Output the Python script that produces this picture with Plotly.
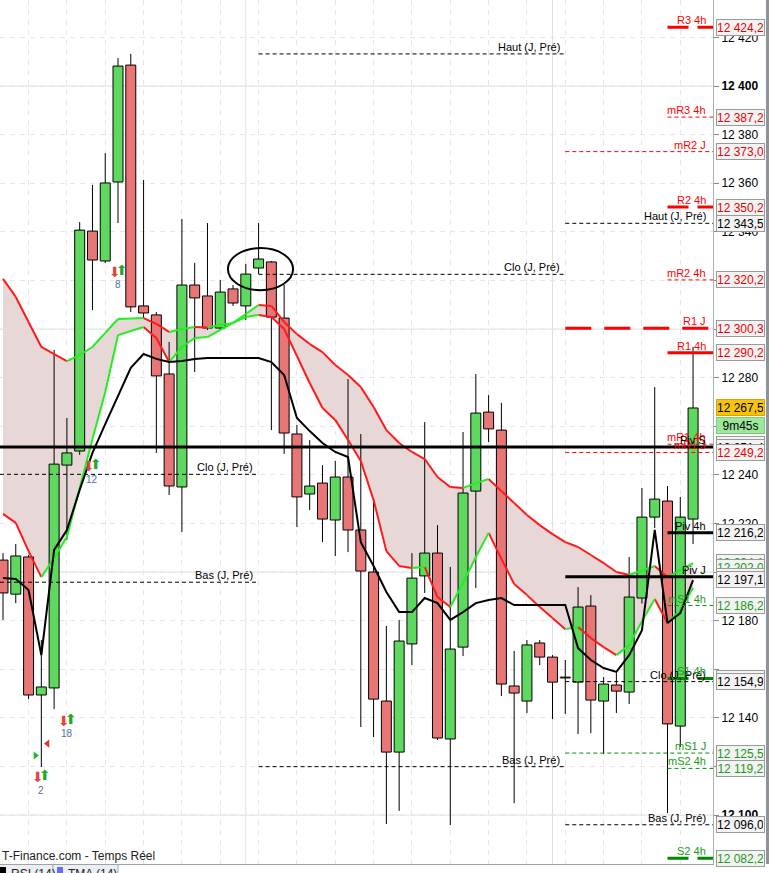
import plotly.graph_objects as go

# ---------------- data ----------------
bar_idx = list(range(55))
opens = [12204.9, 12190.9, 12206.2, 12149.4, 12152.3, 12244.0, 12249.8, 12340.3, 12328.0, 12360.5,
         12408.6, 12309.5, 12305.8, 12281.5, 12235.0, 12318.1, 12313.6, 12300.4, 12316.5, 12309.5,
         12325.1, 12327.6, 12304.5, 12256.8, 12232.1, 12236.6, 12221.4, 12239.1, 12217.3, 12200.0,
         12146.9, 12125.9, 12170.4, 12198.4, 12207.8, 12131.3, 12169.1, 12233.3, 12265.8, 12258.4,
         12153.1, 12146.9, 12170.8, 12165.0, 12156.4, 12154.7, 12186.0, 12146.9, 12153.5, 12150.6,
         12189.3, 12222.6, 12229.2, 12136.6, 12221.8]
highs = [12207.8, 12211.5, 12207.0, 12172.0, 12291.4, 12263.4, 12344.0, 12359.3, 12372.4, 12411.5,
         12413.2, 12361.3, 12307.0, 12294.7, 12345.3, 12327.2, 12343.6, 12320.2, 12318.1, 12326.8,
         12343.6, 12328.0, 12318.1, 12260.5, 12254.3, 12244.0, 12245.7, 12279.4, 12256.8, 12228.8,
         12177.8, 12180.3, 12207.8, 12261.7, 12219.3, 12202.1, 12257.6, 12281.5, 12272.8, 12269.6,
         12167.5, 12172.0, 12172.0, 12165.8, 12163.8, 12193.8, 12190.5, 12156.8, 12158.4, 12206.2,
         12234.6, 12276.1, 12235.4, 12230.9, 12292.6]
lows = [12180.3, 12187.2, 12147.7, 12119.8, 12143.6, 12213.2, 12248.2, 12307.8, 12327.2, 12343.6,
        12307.0, 12304.5, 12249.0, 12231.7, 12216.5, 12282.3, 12299.6, 12299.6, 12309.5, 12303.7,
        12322.6, 12258.4, 12248.6, 12218.5, 12225.5, 12212.3, 12206.6, 12208.2, 12136.2, 12132.1,
        12096.3, 12101.7, 12161.7, 12191.4, 12130.9, 12095.9, 12165.4, 12193.4, 12253.5, 12149.0,
        12104.9, 12142.0, 12161.7, 12139.5, 12141.6, 12133.3, 12133.7, 12125.1, 12142.0, 12145.7,
        12187.0, 12218.1, 12100.8, 12128.0, 12211.5]
closes = [12191.4, 12206.6, 12149.4, 12152.7, 12244.4, 12249.0, 12340.7, 12328.4, 12360.1, 12408.2,
          12309.1, 12306.6, 12280.7, 12235.4, 12318.1, 12312.8, 12300.4, 12315.2, 12310.7, 12322.6,
          12328.8, 12304.9, 12257.2, 12230.9, 12235.4, 12221.8, 12239.1, 12217.3, 12200.4, 12147.7,
          12125.9, 12171.6, 12197.5, 12207.8, 12131.7, 12168.3, 12232.5, 12265.4, 12258.9, 12153.9,
          12150.2, 12170.0, 12165.0, 12154.7, 12156.4, 12185.6, 12147.3, 12153.9, 12151.0, 12189.7,
          12222.6, 12230.0, 12137.5, 12222.6, 12267.5]

band_upper = [12320.6, 12313.2, 12302.9, 12292.6, 12289.7, 12286.8, 12289.3, 12292.6, 12298.4, 12304.1,
              12304.3, 12304.5, 12302.1, 12298.8, 12300.0, 12300.8, 12300.6, 12301.7, 12302.5, 12306.2,
              12309.9, 12309.5, 12302.9, 12297.9, 12293.8, 12290.5, 12285.2, 12281.1, 12276.1, 12267.9,
              12258.4, 12253.1, 12249.4, 12246.5, 12239.1, 12235.0, 12234.6, 12236.6, 12238.3, 12233.3,
              12228.4, 12223.5, 12219.3, 12215.6, 12212.3, 12210.3, 12207.0, 12203.7, 12200.0, 12198.8,
              12200.6, 12202.5, 12197.9, 12200.8, 12203.7]
band_lower = [12223.9, 12220.2, 12208.6, 12197.9, 12205.8, 12214.4, 12234.6, 12254.7, 12274.1, 12297.5,
              12299.2, 12300.8, 12296.3, 12286.4, 12292.6, 12296.3, 12296.7, 12299.6, 12302.5, 12304.9,
              12305.8, 12304.9, 12300.0, 12288.9, 12277.8, 12267.5, 12262.6, 12254.3, 12245.7, 12229.6,
              12208.6, 12202.5, 12201.7, 12202.1, 12189.7, 12185.6, 12195.5, 12206.2, 12216.1, 12205.4,
              12195.1, 12190.5, 12185.6, 12181.1, 12176.5, 12177.4, 12172.8, 12169.1, 12165.8, 12170.0,
              12179.8, 12188.9, 12179.0, 12184.4, 12193.4]
tma = [12197.5, 12197.1, 12192.6, 12165.8, 12209.1, 12217.3, 12233.8, 12249.0, 12260.9, 12272.8,
       12284.0, 12289.7, 12287.7, 12286.4, 12286.8, 12287.7, 12288.1, 12288.1, 12288.1, 12288.1,
       12288.1, 12286.4, 12281.1, 12263.4, 12258.0, 12253.1, 12249.4, 12247.3, 12212.3, 12202.5,
       12191.8, 12183.5, 12183.5, 12189.3, 12187.2, 12180.3, 12183.5, 12187.2, 12188.5, 12189.3,
       12186.4, 12186.4, 12186.4, 12186.4, 12186.4, 12168.7, 12163.8, 12160.5, 12158.9, 12165.8,
       12176.1, 12217.3, 12179.0, 12183.1, 12196.7]

# signal arrows (bar index, price, count label)
sig_idx = [9, 7, 5, 3]
sig_price = [12323.5, 12243.6, 12138.7, 12115.6]
sig_label = ["8", "12", "18", "2"]
tri_right = (2.54, 12124.5)
tri_left = (3.48, 12129.4)

# level lines: (label, price, start bar, kind)
day3_start, h4_start, day2_start = 44, 52, 20
levels = [
    ("mR2 J", 12373.0, day3_start, "mR"),
    ("Haut (J, Pré)", 12343.5, day3_start, "hcb"),
    ("R1 J", 12300.3, day3_start, "Rlong"),
    ("mR1 J", 12249.2, day3_start, "mR"),
    ("Piv J", 12198.1, day3_start, "piv"),
    ("Clo (J, Pré)", 12154.9, day3_start, "hcb"),
    ("mS1 J", 12125.5, day3_start, "mS"),
    ("Bas (J, Pré)", 12096.0, day3_start, "hcb"),
    ("R3 4h", 12424.2, h4_start, "R"),
    ("mR3 4h", 12387.2, h4_start, "mR"),
    ("R2 4h", 12350.2, h4_start, "R"),
    ("mR2 4h", 12320.2, h4_start, "mR"),
    ("R1 4h", 12290.2, h4_start, "Rsolid"),
    ("mR1 4h", 12252.6, h4_start, "mR"),
    ("Piv 4h", 12216.2, h4_start, "piv"),
    ("mS1 4h", 12186.2, h4_start, "mS"),
    ("S1 4h", 12156.2, h4_start, "S"),
    ("mS2 4h", 12119.2, h4_start, "mS"),
    ("S2 4h", 12082.2, h4_start, "S"),
    ("Piv S", 12251.4, None, "piv"),
]
prev_day_names = ["Haut (J, Pré)", "Clo (J, Pré)", "Bas (J, Pré)"]
day2_prices = [12413.2, 12322.5, 12119.9]
day1_prices = [None, 12240.2, 12195.8]

# right-axis price boxes (price, colour)
box_prices = [12424.2, 12387.2, 12373.0, 12350.2, 12343.5, 12320.2, 12300.3, 12290.2,
              12252.6, 12251.4, 12249.2, 12216.2, 12204.1, 12202.0, 12198.1, 12197.1,
              12186.2, 12156.2, 12154.9, 12125.5, 12119.2, 12096.0, 12082.2]
box_colors = ["red", "red", "red", "red", "black", "red", "red", "red",
              "red", "black", "red", "black", "green", "green", "black", "black",
              "green", "green", "black", "green", "green", "black", "green"]
last_price = 12267.5
timer_text = "9m45s"

y_ticks = list(range(12100, 12421, 20))
hidden_tick_labels = [12160]

# ---------------- styling ----------------
FONT = "Liberation Sans, Arial, sans-serif"
RED = "#ff1a1a"
GREEN_LINE = "#22ee22"
GREEN_TXT = "#1a9a1a"
XMIN, XMAX = -0.235, 55.56
YMIN, YMAX = 12079.85, 12435.39
col_map = {"red": "#ee0000", "green": "#1a9a1a", "black": "#000000"}


def fmt(p):
    s = f"{p:.1f}"
    return s[:-5] + " " + s[-5:-2] + "," + s[-1]


fig = go.Figure()

# band fill (between grid and traces)
pts_up = " L ".join(f"{i},{v}" for i, v in zip(bar_idx, band_upper))
pts_lo = " L ".join(f"{i},{v}" for i, v in reversed(list(zip(bar_idx, band_lower))))
fig.add_shape(type="path", path=f"M {pts_up} L {pts_lo} Z", xref="x", yref="y",
              fillcolor="#e8d7d7", line_width=0, layer="between")

# solid grid lines
for v in range(12100, 12401, 100):
    fig.add_shape(type="line", xref="paper", x0=0, x1=1, yref="y", y0=v, y1=v,
                  line=dict(color="#e0e0e0", width=1), layer="below")
for v in [19, 43]:
    fig.add_shape(type="line", xref="x", x0=v, x1=v, yref="paper", y0=0, y1=1,
                  line=dict(color="#e0e0e0", width=1), layer="below")

# candle bodies
bases, heights, colors = [], [], []
for o, c in zip(opens, closes):
    lo, hi = min(o, c), max(o, c)
    bases.append(lo)
    heights.append(max(hi - lo, 0.35))
    colors.append("#5fd85f" if c > o else "#e87676")
fig.add_trace(go.Bar(x=bar_idx, y=heights, base=bases, width=0.78,
                     marker=dict(color=colors, line=dict(color="black", width=1)),
                     hoverinfo="skip"))

# wicks
wx, wy = [], []
for i, o, h, l, c in zip(bar_idx, opens, highs, lows, closes):
    top, bot = max(o, c), min(o, c)
    if h > top:
        wx += [i, i, None]
        wy += [top, h, None]
    if l < bot:
        wx += [i, i, None]
        wy += [l, bot, None]
fig.add_trace(go.Scatter(x=wx, y=wy, mode="lines", line=dict(color="black", width=1),
                         hoverinfo="skip"))


def slope_lines(vals):
    rx, ry, gx, gy = [], [], [], []
    for i in range(len(vals) - 1):
        if vals[i + 1] > vals[i]:
            gx += [bar_idx[i], bar_idx[i + 1], None]
            gy += [vals[i], vals[i + 1], None]
        else:
            rx += [bar_idx[i], bar_idx[i + 1], None]
            ry += [vals[i], vals[i + 1], None]
    return rx, ry, gx, gy


for band in (band_upper, band_lower):
    rx, ry, gx, gy = slope_lines(band)
    fig.add_trace(go.Scatter(x=rx, y=ry, mode="lines", line=dict(color=RED, width=2),
                             hoverinfo="skip"))
    fig.add_trace(go.Scatter(x=gx, y=gy, mode="lines", line=dict(color=GREEN_LINE, width=2),
                             hoverinfo="skip"))

fig.add_trace(go.Scatter(x=bar_idx, y=tma, mode="lines", line=dict(color="black", width=2),
                         hoverinfo="skip"))

# signal arrows (block arrow glyphs) and counts
for i, p, t in zip(sig_idx, sig_price, sig_label):
    fig.add_annotation(x=i, y=p, xshift=-3, text="⬇", showarrow=False,
                       font=dict(size=14, color="#e84040", family="DejaVu Sans"))
    fig.add_annotation(x=i, y=p, xshift=4, yshift=2, text="⬆", showarrow=False,
                       font=dict(size=14, color="#22aa22", family="DejaVu Sans"))
    fig.add_annotation(x=i, y=p, yshift=-13, text=t, showarrow=False,
                       font=dict(size=10, color="#5070a0", family=FONT))
fig.add_trace(go.Scatter(x=[tri_right[0]], y=[tri_right[1]], mode="markers",
                         marker=dict(symbol="triangle-right", size=7, color="#22bb22"),
                         hoverinfo="skip"))
fig.add_trace(go.Scatter(x=[tri_left[0]], y=[tri_left[1]], mode="markers",
                         marker=dict(symbol="triangle-left", size=7, color="#e03030"),
                         hoverinfo="skip"))

# circled candle
fig.add_shape(type="circle", xref="x", yref="y", x0=17.6, x1=22.7, y0=12316.0, y1=12333.3,
              line=dict(color="black", width=2))

# level lines
styles = {
    "mR": dict(color="#ff0000", width=1, dash="4px,3px"),
    "mS": dict(color="#009000", width=1, dash="4px,3px"),
    "hcb": dict(color="#000000", width=1, dash="4px,3px"),
    "R": dict(color="#ff0000", width=3, dash="21px,9px"),
    "Rlong": dict(color="#ff0000", width=3, dash="26px,13px"),
    "Rsolid": dict(color="#ff0000", width=3),
    "S": dict(color="#008800", width=3, dash="21px,9px"),
    "piv": dict(color="#000000", width=3),
}
txt_col = {"mR": "#ff0000", "R": "#ff0000", "Rlong": "#ff0000", "Rsolid": "#ff0000",
           "mS": GREEN_TXT, "S": GREEN_TXT, "hcb": "#000000", "piv": "#000000"}

for name, price, start, kind in levels:
    x0 = XMIN if start is None else start
    fig.add_shape(type="line", xref="x", x0=x0, x1=XMAX, yref="y", y0=price, y1=price,
                  line=styles[kind])
    fig.add_annotation(x=XMAX, xanchor="right", xshift=-5, y=price, yanchor="bottom",
                       yshift=-1, text=name, showarrow=False,
                       font=dict(size=11, color=txt_col[kind], family=FONT))

for name, p2, p1 in zip(prev_day_names, day2_prices, day1_prices):
    fig.add_shape(type="line", xref="x", x0=day2_start, x1=day3_start, yref="y", y0=p2, y1=p2,
                  line=styles["hcb"])
    fig.add_annotation(x=day3_start, xanchor="right", xshift=-3, y=p2, yanchor="bottom",
                       yshift=-1, text=name, showarrow=False,
                       font=dict(size=11, color="black", family=FONT))
    if p1 is not None:
        fig.add_shape(type="line", xref="x", x0=XMIN, x1=day2_start, yref="y", y0=p1, y1=p1,
                      line=styles["hcb"])
        fig.add_annotation(x=day2_start, xanchor="right", xshift=-4, y=p1, yanchor="bottom",
                           yshift=-1, text=name, showarrow=False,
                           font=dict(size=11, color="black", family=FONT))

# right price boxes
order = sorted(range(len(box_prices)), key=lambda k: -box_prices[k])
for k in order:
    fig.add_annotation(xref="paper", x=1, xanchor="left", xshift=3, yref="y", y=box_prices[k],
                       text=fmt(box_prices[k]), showarrow=False,
                       font=dict(size=12, color=col_map[box_colors[k]], family=FONT),
                       bgcolor="#f3f3f3", bordercolor="#9a9a9a", borderwidth=1, borderpad=1,
                       width=45, height=13)
fig.add_annotation(xref="paper", x=1, xanchor="left", xshift=3, yref="y", y=last_price,
                   text=fmt(last_price), showarrow=False,
                   font=dict(size=12, color="black", family=FONT),
                   bgcolor="#f5c20e", bordercolor="#d9a400", borderwidth=1, borderpad=1,
                   width=45, height=13)
fig.add_annotation(xref="paper", x=1, xanchor="left", xshift=3, yref="y", y=last_price,
                   yshift=-18, text=timer_text, showarrow=False,
                   font=dict(size=12, color="black", family=FONT),
                   bgcolor="#9be89b", bordercolor="#7ccc7c", borderwidth=1, borderpad=1,
                   width=45, height=13)

# right edge strip
fig.add_shape(type="rect", xref="paper", x0=1.0743, x1=1.0785, yref="paper", y0=0, y1=1,
              fillcolor="#8c939a", line_width=0)

# footer texts and tabs
fig.add_annotation(xref="paper", x=0, xanchor="left", yref="paper", y=0, yanchor="bottom",
                   yshift=-1, text="T-Finance.com - Temps Réel", showarrow=False,
                   font=dict(size=12, color="#222222", family=FONT))
fig.add_shape(type="rect", xref="paper", x0=0, x1=0.1655, yref="paper", y0=-0.0012, y1=-0.02,
              fillcolor="#eceff3", line_width=0)
fig.add_shape(type="rect", xref="paper", x0=0, x1=0.0084, yref="paper", y0=-0.0035, y1=-0.02,
              fillcolor="#000000", line_width=0)
fig.add_shape(type="rect", xref="paper", x0=0.0799, x1=0.0884, yref="paper", y0=-0.0035,
              y1=-0.02, fillcolor="#6a6aff", line_width=0)
for xs in [0.0743, 0.1655]:
    fig.add_shape(type="line", xref="paper", x0=xs, x1=xs, yref="paper", y0=0, y1=-0.02,
                  line=dict(color="#a0a8b0", width=1))
fig.add_annotation(xref="paper", x=0.0126, xanchor="left", yref="paper", y=-0.0012,
                   yanchor="top", text="RSI (14)", showarrow=False,
                   font=dict(size=12, color="#222222", family=FONT))
fig.add_annotation(xref="paper", x=0.0926, xanchor="left", yref="paper", y=-0.0012,
                   yanchor="top", text="TMA (14)", showarrow=False,
                   font=dict(size=12, color="#222222", family=FONT))


def tick_label(v):
    if v in hidden_tick_labels:
        return ""
    s = f"{v // 1000} {v % 1000:03d}"
    return f"<b>{s}</b>" if v % 100 == 0 else s


tick_text = [tick_label(v) for v in y_ticks]

fig.update_layout(
    width=769, height=873,
    margin=dict(l=0, r=56, t=0, b=9),
    plot_bgcolor="white", paper_bgcolor="white",
    showlegend=False, hovermode=False, barmode="overlay",
    font=dict(family=FONT),
    xaxis=dict(range=[XMIN, XMAX], tickvals=list(range(2, 55, 3)), showticklabels=False,
               showgrid=True, gridcolor="#e6e6e6", griddash="5px,5px", gridwidth=1,
               zeroline=False, showline=True, linecolor="#9aa4ae", linewidth=1, ticks="",
               automargin=False, fixedrange=True),
    yaxis=dict(range=[YMIN, YMAX], side="right", tickvals=y_ticks, ticktext=tick_text,
               showgrid=True, gridcolor="#e6e6e6", griddash="5px,5px", gridwidth=1,
               zeroline=False, showline=True, linecolor="#a8b0b8", linewidth=1,
               ticks="outside", ticklen=5, tickcolor="#888888",
               tickfont=dict(size=12, color="black", family=FONT), automargin=False,
               fixedrange=True),
)

fig.write_html("out.html", config={"displayModeBar": False},
               post_script="document.body.style.margin='0';document.body.style.padding='0';"
                           "document.body.style.overflow='hidden';")
